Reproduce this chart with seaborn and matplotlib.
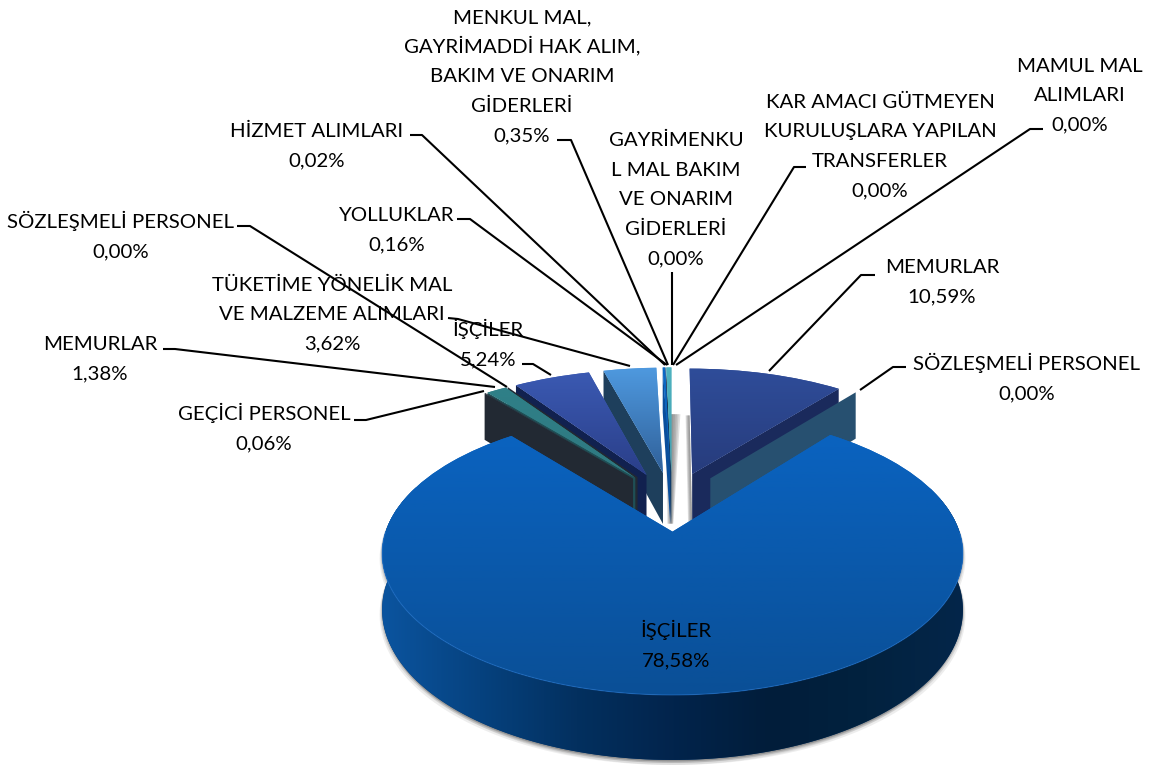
import numpy as np
import matplotlib.pyplot as plt
import matplotlib.transforms as mtransforms
from matplotlib.colors import LinearSegmentedColormap
from matplotlib.patches import Polygon
import seaborn as sns

# Slice data, clockwise from the top of the pie
categories = ['MEMURLAR', 'SÖZLEŞMELİ PERSONEL', 'İŞÇİLER', 'GEÇİCİ PERSONEL',
              'MEMURLAR', 'SÖZLEŞMELİ PERSONEL', 'İŞÇİLER',
              'TÜKETİME YÖNELİK MAL\nVE MALZEME ALIMLARI', 'YOLLUKLAR', 'HİZMET ALIMLARI',
              'MENKUL MAL,\nGAYRİMADDİ HAK ALIM,\nBAKIM VE ONARIM\nGİDERLERİ',
              'GAYRİMENKU\nL MAL BAKIM\nVE ONARIM\nGİDERLERİ',
              'KAR AMACI GÜTMEYEN\nKURULUŞLARA YAPILAN\nTRANSFERLER',
              'MAMUL MAL\nALIMLARI']
shares = [10.59, 0.00, 78.58, 0.06, 1.38, 0.00, 5.24, 3.62, 0.16, 0.02, 0.35, 0.00, 0.00, 0.00]

# Colours per slice: top of the gradient, bottom of the gradient, side face
top_light = ['#2f4d9a', '#2a5578', '#0a63c0', '#2a3441', '#2f8088', '#2a3441', '#3b5ab3',
             '#4f9ae0', '#0a6ac8', '#16294f', '#4fb3c0', '#4fb3c0', '#4fb3c0', '#4fb3c0']
top_dark = ['#273c7c', '#2a5578', '#0a4f96', '#2a3441', '#2f7880', '#2a3441', '#2a3e88',
            '#2f5f98', '#0a5ab0', '#16294f', '#3f9fb0', '#3f9fb0', '#3f9fb0', '#3f9fb0']
side_faces = ['#1a2a5c', '#275070', '#06386e', '#222933', '#1f4f55', '#222933', '#11214f',
              '#1e3f5c', '#0a4f9c', '#102a50', '#1c4f70', '#1c4f70', '#1c4f70', '#1c4f70']

# label box centre (x, y), then the leader line running to the slice, in pixels
label_layout = [
    (942, 281, [(875, 275), (861, 275), (769, 371)]),
    (1027, 378, [(906, 367), (893, 367), (860, 390)]),
    (676, 645, None),
    (264, 428, [(354, 420), (366, 420), (484, 391)]),
    (100, 358, [(163, 349), (175, 349), (495, 387)]),
    (121, 236, [(237, 226), (250, 226), (507, 387)]),
    (488, 344, [(522, 364), (533, 364), (551, 375)]),
    (332, 313, [(448, 318), (458, 319), (630, 366)]),
    (397, 229, [(457, 219), (470, 219), (667, 365)]),
    (317, 145, [(410, 135), (422, 135), (665, 365)]),
    (522, 75, [(557, 140), (571, 140), (668, 365)]),
    (676, 198, [(672, 272), (672, 365)]),
    (880, 145, [(806, 167), (794, 167), (673, 365)]),
    (1080, 94, [(1043, 129), (1030, 129), (676, 365)]),
]

CX, CY = 672, 501
RX, RY = 277, 128.6
PERSP = 0.15
DEPTH = 53
EXPLODE = 0.23
LINE_STEP = 29.5


def project(u, v, z=0.0):
    p = 1.0 / (1.0 + PERSP * v)
    return CX + RX * u * p, CY - RY * v * p + DEPTH * z * p


class PieProjection(mtransforms.Transform):
    input_dims = 2
    output_dims = 2
    is_separable = False

    def transform_non_affine(self, values):
        x, y = project(values[:, 0], values[:, 1])
        return np.column_stack([x, y])


def rim(center, angle):
    a = np.deg2rad(angle)
    return center[0] + np.cos(a), center[1] + np.sin(a)


def face_points(center, angle):
    # side wall standing under the edge from the pie centre to the rim
    ru, rv = rim(center, angle)
    x0, y0 = project(center[0], center[1])
    x1, y1 = project(ru, rv)
    x2, y2 = project(ru, rv, 1)
    x3, y3 = project(center[0], center[1], 1)
    return [(x0, y0), (x1, y1), (x2, y2), (x3, y3)]


def band_points(center, t1, t2):
    # outer wall below the rim, only the part turned to the viewer
    angles = np.linspace(t1, t2, 200)
    us, vs = rim(center, angles)
    keep = np.sin(np.deg2rad(angles)) < 0.35
    x, y = project(us[keep], vs[keep])
    xb, yb = project(us[keep], vs[keep], 1)
    front = np.sin(np.deg2rad(angles[keep])) < 0.0
    return np.column_stack([np.r_[x, xb[::-1]], np.r_[y, yb[::-1]]]), np.column_stack([x[front], y[front]])


def wall_shadow(center, angle, rim_w, apex_w, zorder):
    # soft grey strip on the floor below a slice edge
    pts = face_points(center, angle)
    (rx, ry), (ax_, ay) = pts[2], pts[3]
    for f in [1.0, 0.8, 0.6, 0.4, 0.2]:
        ax.add_patch(Polygon([(rx - rim_w[0] * f, ry + 2), (rx + rim_w[1] * f, ry + 2),
                              (ax_ + apex_w[1] * f, ay), (ax_ - apex_w[0] * f, ay)],
                             closed=True, fc='#666666', ec='none', alpha=0.2, zorder=zorder))


sns.set_theme(style='white')
plt.rcParams['font.family'] = ['Lato', 'DejaVu Sans']

fig = plt.figure(figsize=(11.51, 7.65), dpi=100)
ax = fig.add_axes([0, 0, 1, 1])

wedges, _ = ax.pie(shares, explode=[EXPLODE] * len(shares), startangle=90, counterclock=False,
                   colors=top_light, normalize=True)
ax.set_aspect('auto')
ax.set_xlim(0, 1151)
ax.set_ylim(765, 0)
ax.axis('off')

proj = PieProjection() + ax.transData
band_cmap = LinearSegmentedColormap.from_list(
    'band', ['#0b549f', '#06427f', '#03305f', '#02244c', '#011d3a', '#02223f', '#04264a'])

# floor shadows of the split slices
wall_shadow(wedges[0].center, wedges[0].theta2, (4, 0), (4, 0), 1.5)
wall_shadow(wedges[10].center, wedges[10].theta1, (6, 9), (4, 2), 1.5)

# back slices first, the big one last
order = sorted(range(len(shares)), key=lambda i: -wedges[i].center[1])
z = 2.0
for i in order:
    w = wedges[i]
    t1, t2 = w.theta1, w.theta2
    # angles here are measured from +x counter-clockwise
    if np.cos(np.deg2rad(t1)) > 0:
        ax.add_patch(Polygon(face_points(w.center, t1), closed=True, fc=side_faces[i], ec='none', zorder=z))
    if np.cos(np.deg2rad(t2)) < 0:
        ax.add_patch(Polygon(face_points(w.center, t2), closed=True, fc=side_faces[i], ec='none', zorder=z))
    if shares[i] > 20:
        pts, edge = band_points(w.center, t1, t2)
        for k, alpha in zip([5, 3, 1.5], [0.10, 0.15, 0.2]):
            for sign in [-1, 1]:
                ax.add_patch(Polygon(pts + [sign * k * 0.5, k], closed=True, fc='#555555', ec='none',
                                     alpha=alpha, zorder=z - 0.01))
        band = Polygon(pts, closed=True, fc=side_faces[i], ec='none', zorder=z)
        ax.add_patch(band)
        im = ax.imshow(np.linspace(0, 1, 256).reshape(1, -1), cmap=band_cmap, extent=(382, 965, 765, 500),
                       aspect='auto', zorder=z + 0.01)
        im.set_clip_path(band)
    w.set_transform(proj)
    w.set_edgecolor('none')
    w.set_zorder(z + 0.02)
    if shares[i] > 0:
        arc = np.linspace(t1, t2, 60)
        xs, ys = project(*rim(w.center, arc))
        x0, y0 = project(*w.center)
        xs, ys = np.r_[xs, x0], np.r_[ys, y0]
        cmap = LinearSegmentedColormap.from_list('top', [top_light[i], top_dark[i]])
        im = ax.imshow(np.linspace(0, 1, 128).reshape(-1, 1), cmap=cmap,
                       extent=(xs.min() - 2, xs.max() + 2, ys.max() + 2, ys.min() - 2),
                       aspect='auto', zorder=z + 0.03)
        im.set_clip_path(w)
    if shares[i] > 20:
        ax.plot(edge[:, 0], edge[:, 1], color='#2a78d0', lw=0.8, alpha=0.5, zorder=z + 0.04)
    z += 0.2

ax.set_xlim(0, 1151)
ax.set_ylim(765, 0)

for name, share, (tx, ty, leader) in zip(categories, shares, label_layout):
    lines = (name + '\n' + f'{share:.2f}'.replace('.', ',') + '%').split('\n')
    # one text per line, matplotlib's own line height changes with the dotted capitals
    for n, line in enumerate(lines):
        base = ty + (n - (len(lines) - 1) / 2) * LINE_STEP + 7
        ax.text(tx, base, line, ha='center', va='baseline', fontsize=14.65, color='black', zorder=10)
    if leader:
        ax.plot(*zip(*leader), color='black', lw=1.5, solid_capstyle='butt', zorder=11)

plt.savefig('out.png', dpi=100)
plt.close()
